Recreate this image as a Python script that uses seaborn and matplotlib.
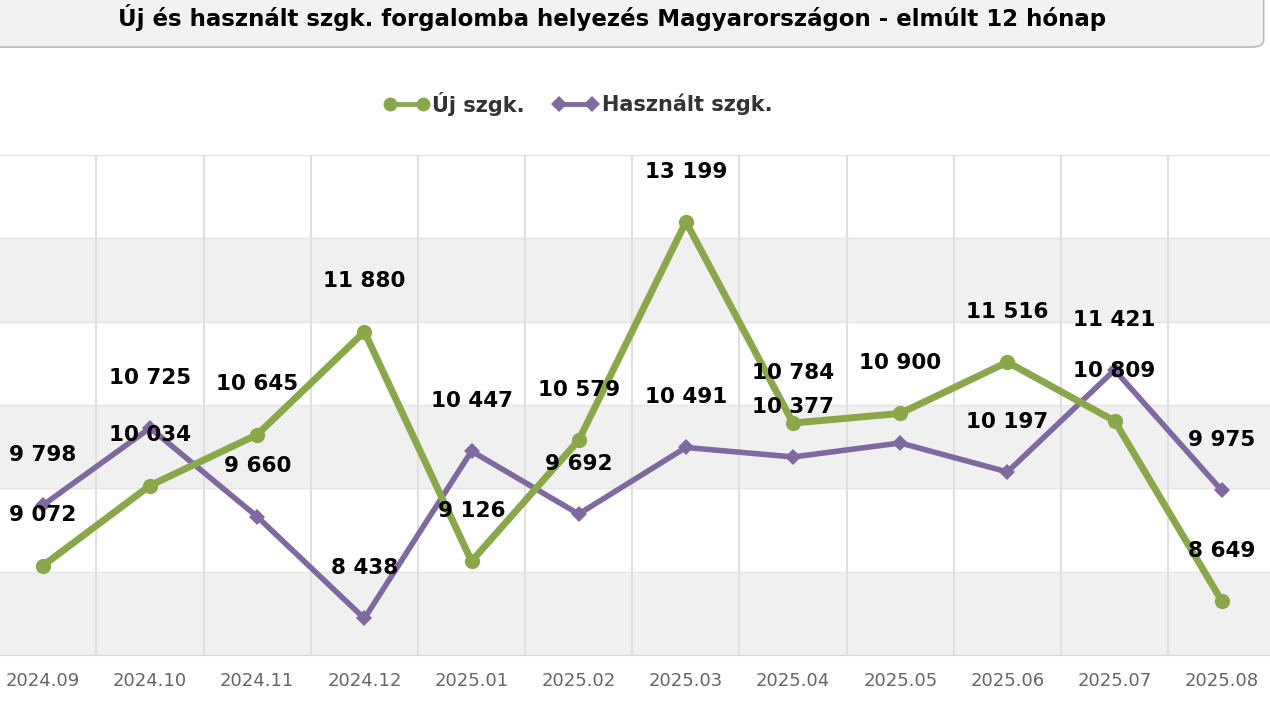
import pandas as pd
import matplotlib.pyplot as plt
import numpy as np
import seaborn as sns
from matplotlib.patches import FancyBboxPatch

months = ['2024.09', '2024.10', '2024.11', '2024.12', '2025.01', '2025.02',
          '2025.03', '2025.04', '2025.05', '2025.06', '2025.07', '2025.08']
new_cars = [9072, 10034, 10645, 11880, 9126, 10579, 13199, 10784, 10900, 11516, 10809, 8649]
used_cars = [9798, 10725, 9660, 8438, 10447, 9692, 10491, 10377, 10545, 10197, 11421, 9975]
# the reference hides this label because it overlaps another one
hidden_used = ['2025.05']

green = '#8aa84b'
purple = '#8068a0'

sns.set_style('white')
fig = plt.figure(figsize=(12.7, 7.03), dpi=100)
ax = fig.add_axes([0, 0.0683, 1, 0.711])

df = pd.DataFrame({'x': np.arange(len(months)), 'new': new_cars, 'used': used_cars})

# alternating bands
for lo in range(8000, 14000, 2000):
    ax.axhspan(lo, lo + 1000, color='#f0f0f0', zorder=0)
for y in range(8000, 14001, 1000):
    ax.axhline(y, color='#e6e6e6', lw=1, zorder=0.5)
for i in range(len(months)):
    ax.axvline(i + 0.5, color='#e0e0e0', lw=1.5, zorder=0.5)

sns.lineplot(data=df, x='x', y='used', ax=ax, color=purple, lw=4, marker='D',
             markersize=8, markeredgewidth=0, zorder=3)
sns.lineplot(data=df, x='x', y='new', ax=ax, color=green, lw=5, marker='o',
             markersize=11, markeredgewidth=0, zorder=4)

def fmt(v):
    return f'{v:,}'.replace(',', ' ')

for i, (a, b) in enumerate(zip(new_cars, used_cars)):
    vals = [a] if months[i] in hidden_used else [a, b]
    for v in vals:
        ax.annotate(fmt(v), (i, v), xytext=(0, 29), textcoords='offset points',
                    ha='center', va='bottom', fontsize=15.5, fontweight='bold', color='black',
                    zorder=6)

ax.set_xlim(-0.4, 11.45)
ax.set_ylim(8000, 14000)
ax.set_xticks(df['x'])
ax.set_xticklabels(months, fontsize=13, color='#666666')
ax.tick_params(axis='x', length=0, pad=12)
ax.set_yticks([])
ax.set_xlabel('')
ax.set_ylabel('')
for s in ['top', 'left', 'right']:
    ax.spines[s].set_visible(False)
ax.spines['bottom'].set_color('#ccd6eb')

# title box
box = FancyBboxPatch((-0.01, 0.933), 1.005, 0.09, boxstyle='round,pad=0,rounding_size=0.01',
                     transform=fig.transFigure, facecolor='#f2f2f2', edgecolor='#bbbbbb',
                     lw=1.2, figure=fig)
fig.patches.append(box)
fig.text(0.482, 0.975, 'Új és használt szgk. forgalomba helyezés Magyarországon - elmúlt 12 hónap',
         ha='center', va='center', fontsize=16.5, fontweight='bold', color='black')

# legend
fig.lines.append(plt.Line2D([0.307, 0.333], [0.852, 0.852], transform=fig.transFigure,
                            color=green, lw=3.5, marker='o', markersize=10, markevery=[1],
                            markeredgewidth=0))
fig.lines.append(plt.Line2D([0.307, 0.333], [0.852, 0.852], transform=fig.transFigure,
                            color=green, lw=0, marker='o', markersize=10, markeredgewidth=0,
                            markevery=[0]))
fig.text(0.34, 0.852, 'Új szgk.', ha='left', va='center', fontsize=15, fontweight='bold', color='#333333')
fig.lines.append(plt.Line2D([0.44, 0.466], [0.852, 0.852], transform=fig.transFigure,
                            color=purple, lw=3.5, marker='D', markersize=8, markeredgewidth=0))
fig.text(0.474, 0.852, 'Használt szgk.', ha='left', va='center', fontsize=15, fontweight='bold', color='#333333')

fig.savefig('out.png', dpi=100)
